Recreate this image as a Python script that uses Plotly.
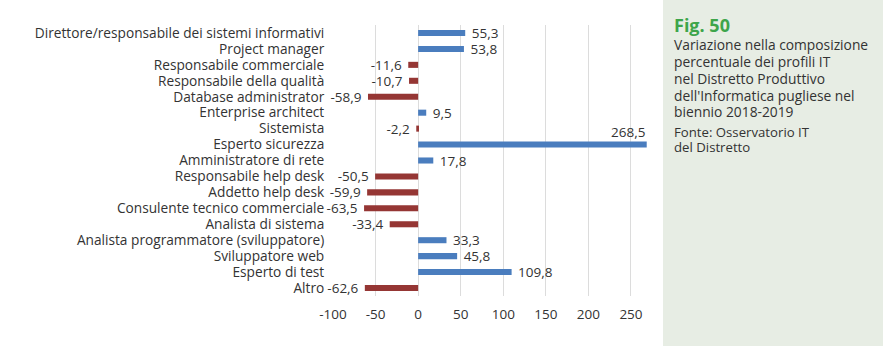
import plotly.graph_objects as go

W, H = 883, 346

profili = [
    "Direttore/responsabile dei sistemi informativi",
    "Project manager",
    "Responsabile commerciale",
    "Responsabile della qualità",
    "Database administrator",
    "Enterprise architect",
    "Sistemista",
    "Esperto sicurezza",
    "Amministratore di rete",
    "Responsabile help desk",
    "Addetto help desk",
    "Consulente tecnico commerciale",
    "Analista di sistema",
    "Analista programmatore (sviluppatore)",
    "Sviluppatore web",
    "Esperto di test",
    "Altro",
]
variazione = [55.3, 53.8, -11.6, -10.7, -58.9, 9.5, -2.2, 268.5, 17.8,
              -50.5, -59.9, -63.5, -33.4, 33.3, 45.8, 109.8, -62.6]

x_ticks = [-100, -50, 0, 50, 100, 150, 200, 250]
x_range = [-100, 270]

caption_lines = [
    "Variazione nella composizione",
    "percentuale dei profili IT",
    "nel Distretto Produttivo",
    "dell'Informatica pugliese nel",
    "biennio 2018-2019",
]
source_lines = ["Fonte: Osservatorio IT", "del Distretto"]

BLUE = "#4A7DBE"
RED = "#953634"
TEXT = "#333333"
FONT = "Open Sans"

def fmt(v):
    return f"{v:.1f}".replace(".", ",")

colors = [BLUE if v >= 0 else RED for v in variazione]
labels = [fmt(v) for v in variazione]
# the label of a bar reaching past the axis end goes above the bar instead
overflow = [v > x_range[1] - 20 for v in variazione]
bar_text = ["" if o else (" " + t if v >= 0 else t + " ")
            for o, t, v in zip(overflow, labels, variazione)]

fig = go.Figure()
fig.add_trace(go.Bar(
    y=profili, x=variazione, orientation="h",
    marker=dict(color=colors, line=dict(width=0)),
    width=0.38,
    text=bar_text, textposition="outside", cliponaxis=False,
    constraintext="none",
    textfont=dict(family=FONT, size=13.5, color=TEXT),
    hoverinfo="skip",
))

for cat, v, o, t in zip(profili, variazione, overflow, labels):
    if o:
        fig.add_annotation(x=v, y=cat, xref="x", yref="y", text=t,
                           showarrow=False, xanchor="right", yanchor="bottom",
                           yshift=2, font=dict(family=FONT, size=13.5, color=TEXT))

# side caption panel
fig.add_shape(type="rect", xref="paper", yref="paper",
              x0=663 / W, x1=1, y0=0, y1=1,
              fillcolor="#E7EDE4", line=dict(width=0), layer="below")

def panel_text(text, top_px, size, color=TEXT):
    fig.add_annotation(x=672 / W, y=1 - top_px / H, xref="paper", yref="paper",
                       text=text, showarrow=False, align="left",
                       xanchor="left", yanchor="middle",
                       font=dict(family=FONT, size=size, color=color))

panel_text("<b>Fig. 50</b>", 25, 18, "#3DA54A")
for i, line in enumerate(caption_lines):
    panel_text(line, 45 + 16.7 * i, 13.8)
for i, line in enumerate(source_lines):
    panel_text(line, 131.7 + 15 * i, 13.2)

fig.update_layout(
    width=W, height=H,
    margin=dict(l=0, r=0, t=0, b=0, pad=0),
    paper_bgcolor="white", plot_bgcolor="white",
    showlegend=False,
    font=dict(family=FONT, color=TEXT, size=13),
    xaxis=dict(domain=[333 / W, 648 / W], range=x_range, automargin=False,
               tickvals=x_ticks, ticktext=[str(t) for t in x_ticks],
               showgrid=True, gridcolor="#DCDCDC", gridwidth=1,
               zeroline=True, zerolinecolor="#DCDCDC", zerolinewidth=1,
               showline=False, ticks="", ticklabelstandoff=8,
               tickfont=dict(size=13.5, color=TEXT), fixedrange=True),
    yaxis=dict(domain=[50 / H, 1 - 25 / H], autorange="reversed",
               automargin=False, type="category",
               tickmode="array", tickvals=profili, ticktext=profili,
               showgrid=False, showline=False,
               ticks="outside", ticklen=5, tickcolor="rgba(0,0,0,0)",
               tickfont=dict(size=13.7, color=TEXT), fixedrange=True),
)

fig.write_html("out.html")
